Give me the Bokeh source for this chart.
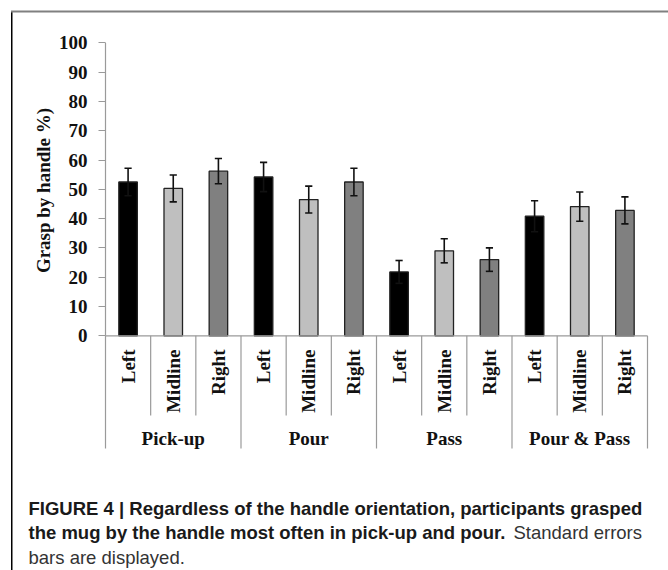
import math

from bokeh.core.properties import value
from bokeh.embed import file_html
from bokeh.models import BoxAnnotation, ColumnDataSource, FixedTicker, Label
from bokeh.plotting import figure
from bokeh.resources import INLINE

# ---- data -------------------------------------------------------------
tasks = ["Pick-up", "Pour", "Pass", "Pour & Pass"]
orientations = ["Left", "Midline", "Right"]

left_pct = [52.5, 54.2, 21.8, 40.8]
midline_pct = [50.3, 46.5, 29.0, 44.1]
right_pct = [56.2, 52.5, 26.0, 42.8]

left_se = [4.7, 5.0, 3.9, 5.3]
midline_se = [4.6, 4.6, 4.1, 5.0]
right_se = [4.3, 4.7, 4.0, 4.6]

y_ticks = [0, 10, 20, 30, 40, 50, 60, 70, 80, 90, 100]

# ---- layout ------------------------------------------------------------
W, H = 668, 570
AXIS_X = 105                # canvas x of the value axis
N_CAT = len(tasks) * len(orientations)
PX_X = (647 - AXIS_X) / N_CAT   # pixels per category
Y0 = 335.3                  # canvas y of 0 %
PX_Y = (335.3 - 42.3) / 100  # pixels per percent


def ydat(py):
    """canvas y (pixels from top) -> data value"""
    return (Y0 - py) / PX_Y


def xdat(px):
    """canvas x -> category units"""
    return (px - AXIS_X) / PX_X


SERIF = value("Liberation Serif")
AXIS_GREY = "#9a9a9a"
INK = "#111111"
fills = {"Left": "#000000", "Midline": "#bfbfbf", "Right": "#808080"}

p = figure(width=W, height=H, x_range=(xdat(0), xdat(W)), y_range=(ydat(H), ydat(0)),
           output_backend="svg", toolbar_location=None,
           x_axis_location=None, min_border=0)
p.grid.visible = False
p.outline_line_color = None
p.background_fill_color = "white"
p.border_fill_color = "white"

# value axis, pinned at the first category edge
ya = p.yaxis[0]
ya.fixed_location = 0
ya.ticker = FixedTicker(ticks=y_ticks)
ya.axis_line_color = None
ya.major_tick_line_color = AXIS_GREY
ya.major_tick_out = 7
ya.major_tick_in = 0
ya.minor_tick_line_color = None
ya.major_label_standoff = 11
ya.major_label_text_font = "Liberation Serif"
ya.major_label_text_font_style = "bold"
ya.major_label_text_font_size = "19px"
ya.major_label_text_color = INK

p.add_layout(Label(x=43, y=190, x_units="canvas", y_units="canvas",
                   text="Grasp by handle %)", angle=math.pi / 2,
                   text_align="center", text_baseline="middle",
                   text_font="Liberation Serif", text_font_style="bold",
                   text_font_size="19px", text_color=INK))

# bars with error bars
series = [("Left", left_pct, left_se), ("Midline", midline_pct, midline_se),
          ("Right", right_pct, right_se)]
cap = 3.6 / PX_X
for k, (name, vals, ses) in enumerate(series):
    xs = [3 * g + k + 0.5 for g in range(len(tasks))]
    src = ColumnDataSource(dict(
        x=xs, top=vals,
        lo=[v - s for v, s in zip(vals, ses)],
        hi=[v + s for v, s in zip(vals, ses)],
        cl=[x - cap for x in xs], cr=[x + cap for x in xs]))
    p.vbar(x="x", top="top", bottom=0, width=0.41, source=src,
           fill_color=fills[name], line_color="#222222", line_width=1.3)
    p.segment(x0="x", y0="lo", x1="x", y1="hi", source=src,
              line_color=INK, line_width=1.6)
    p.segment(x0="cl", y0="hi", x1="cr", y1="hi", source=src,
              line_color=INK, line_width=1.6)
    p.segment(x0="cl", y0="lo", x1="cr", y1="lo", source=src,
              line_color=INK, line_width=1.6)

# axis lines and the category table underneath
p.segment(x0=[0], y0=[0], x1=[0], y1=[100], line_color=AXIS_GREY, line_width=1.2)
p.segment(x0=[0], y0=[0], x1=[N_CAT], y1=[0], line_color=AXIS_GREY, line_width=1.2)
bounds = list(range(N_CAT + 1))
short_y, long_y = ydat(415), ydat(448)
p.segment(x0=bounds, y0=[0] * len(bounds), x1=bounds,
          y1=[long_y if b % 3 == 0 else short_y for b in bounds],
          line_color=AXIS_GREY, line_width=1.2)

sub_x = [i + 0.5 for i in range(N_CAT)]
sub_txt = [orientations[i % 3] for i in range(N_CAT)]
p.text(x=sub_x, y=[ydat(349)] * N_CAT, text=sub_txt, angle=math.pi / 2,
       text_align="right", text_baseline="middle", text_font=SERIF,
       text_font_style="bold", text_font_size="19px", text_color=INK)
p.text(x=[3 * g + 1.5 for g in range(len(tasks))], y=[ydat(438)] * len(tasks),
       text=tasks, text_align="center", text_baseline="middle", text_font=SERIF,
       text_font_style="bold", text_font_size="19px", text_color=INK)

# page frame
p.add_layout(BoxAnnotation(left=10.5, right=12, top=10.5, bottom=H,
                           left_units="canvas", right_units="canvas",
                           top_units="canvas", bottom_units="canvas",
                           fill_color="#000000", fill_alpha=1, line_alpha=0))
p.add_layout(BoxAnnotation(left=10.5, right=W, top=10, bottom=12,
                           left_units="canvas", right_units="canvas",
                           top_units="canvas", bottom_units="canvas",
                           fill_color="#808080", fill_alpha=1, line_alpha=0))

# caption
cap_lines = [
    (28, 508, "FIGURE 4 | Regardless of the handle orientation, participants grasped", "bold", "#1a1a1a"),
    (28, 532, "the mug by the handle most often in pick-up and pour.", "bold", "#1a1a1a"),
    (513, 532, "Standard errors", "normal", "#333333"),
    (28, 557, "bars are displayed.", "normal", "#333333"),
]
for cx, cy, txt, style, col in cap_lines:
    p.add_layout(Label(x=cx, y=cy, x_units="canvas", y_units="canvas", text=txt,
                       text_font="Liberation Sans", text_font_style=style,
                       text_font_size="18.5px", text_color=col,
                       text_baseline="alphabetic", text_align="left"))

open("out.html", "w").write(file_html(p, INLINE))
